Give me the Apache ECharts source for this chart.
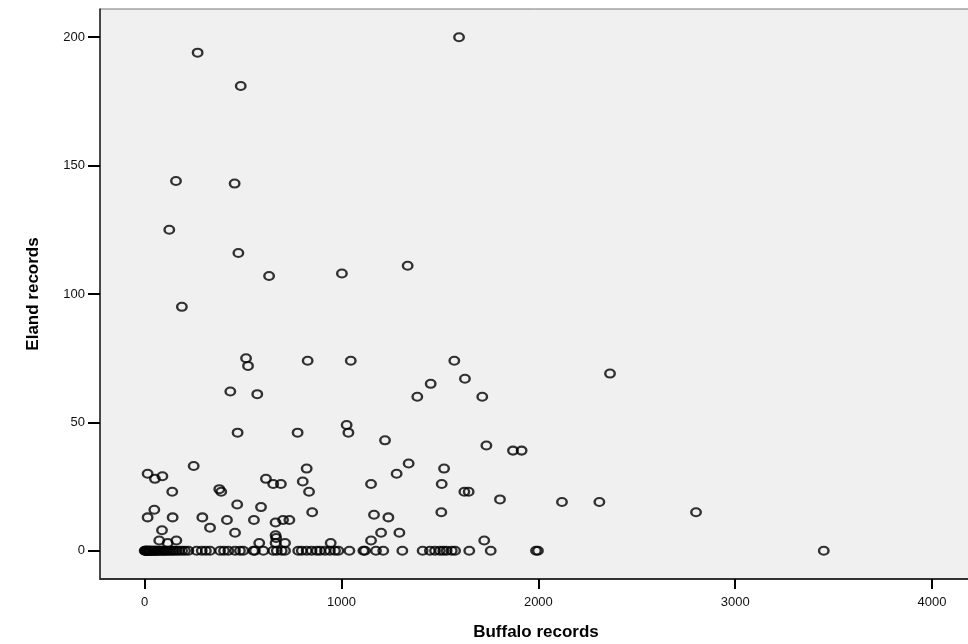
<!DOCTYPE html>
<html>
<head>
<meta charset="utf-8">
<script src="https://cdn.jsdelivr.net/npm/echarts@6/dist/echarts.min.js"></script>
<style>
  html, body { margin: 0; padding: 0; background: #fff; }
  #chart { width: 968px; height: 644px; }
</style>
</head>
<body>
<div id="chart"></div>
<script>
// buffalo / eland records (paired by index)
const buffaloRecords = [
  1597, 269, 488, 159, 457, 125, 476, 632, 1002, 1336,
  189, 515, 525, 828, 1047, 1573, 1627, 1453, 1385, 1715, 435, 572, 472, 777, 1026, 1035, 1221, 1736, 1871, 1915, 2364,
  249, 1341, 1521, 823, 15, 52, 90, 1280, 616, 653, 692, 803, 1150, 1509,
  140, 379, 389, 835, 1624, 1646, 1805, 470, 591, 1507, 851, 49, 15, 142, 293, 418, 555, 703, 735, 665, 1165, 1238,
  332, 88, 459, 1201, 1294, 665, 668, 74, 117, 161, 582, 665, 713, 945, 1150, 1725,
  2120, 2310, 2801
];
const elandRecords = [
  200, 194, 181, 144, 143, 125, 116, 107, 108, 111,
  95, 75, 72, 74, 74, 74, 67, 65, 60, 60, 62, 61, 46, 46, 49, 46, 43, 41, 39, 39, 69,
  33, 34, 32, 32, 30, 28, 29, 30, 28, 26, 26, 27, 26, 26,
  23, 24, 23, 23, 23, 23, 20, 18, 17, 15, 15, 16, 13, 13, 13, 12, 12, 12, 12, 11, 14, 13,
  9, 8, 7, 7, 7, 6, 5, 4, 3, 4, 3, 3, 3, 3, 4, 4,
  19, 19, 15
];
// sites with buffalo records but no eland records
const buffaloNoEland = [
  0, 3, 6, 9, 12, 16, 20, 24, 28, 33, 38, 43, 48, 53, 59, 65, 72, 80, 88, 95,
  103, 111, 120, 130, 140, 150, 162, 175, 190, 205, 222, 264, 290, 311, 332,
  383, 403, 425, 459, 484, 501, 552, 560, 603, 653, 671, 696, 713, 780, 798,
  823, 848, 874, 891, 916, 941, 967, 984, 1040, 1111, 1119, 1175, 1212, 1309,
  1412, 1449, 1475, 1500, 1517, 1534, 1560, 1577, 1649, 1758, 1988, 1998, 3450
];
const xTicks = [0, 1000, 2000, 3000, 4000];
const yTicks = [0, 50, 100, 150, 200];

const points = buffaloRecords.map((b, i) => [b, elandRecords[i]])
  .concat(buffaloNoEland.map(b => [b, 0]));

const font = '"Liberation Sans", Arial, sans-serif';

const chart = echarts.init(document.getElementById('chart'));
chart.setOption({
  backgroundColor: '#ffffff',
  animation: false,
  grid: {
    left: 100, top: 9, right: -4, bottom: 65,
    outerBoundsMode: 'none',
    show: true, backgroundColor: '#f0f0f0',
    borderColor: '#777', borderWidth: 1
  },
  xAxis: {
    type: 'value', min: -227, max: 4203,
    name: 'Buffalo records', nameLocation: 'middle', nameGap: 45,
    nameTextStyle: { fontFamily: font, fontSize: 17, fontWeight: 'bold', color: '#000' },
    axisLine: { show: true, onZero: false, lineStyle: { color: '#333', width: 2 } },
    axisTick: { show: true, customValues: xTicks, length: 10, lineStyle: { color: '#000', width: 2 } },
    axisLabel: { customValues: xTicks, margin: 17, fontFamily: font, fontSize: 13, color: '#111',
      formatter: v => String(v) },
    splitLine: { show: false }
  },
  yAxis: {
    type: 'value', min: -11, max: 211,
    name: 'Eland records', nameLocation: 'middle', nameGap: 58, nameRotate: 90,
    nameTextStyle: { fontFamily: font, fontSize: 17, fontWeight: 'bold', color: '#000' },
    axisLine: { show: true, onZero: false, lineStyle: { color: '#222', width: 1.5 } },
    axisTick: { show: true, customValues: yTicks, length: 12, lineStyle: { color: '#000', width: 2 } },
    axisLabel: { customValues: yTicks, margin: 15, fontFamily: font, fontSize: 13, color: '#111',
      formatter: v => String(v) },
    splitLine: { show: false }
  },
  series: [{
    type: 'scatter',
    data: points,
    symbol: 'circle',
    symbolSize: [9.5, 8],
    itemStyle: { color: 'rgba(0,0,0,0)', borderColor: '#000', borderWidth: 2.2 }
  }]
});
</script>
</body>
</html>
